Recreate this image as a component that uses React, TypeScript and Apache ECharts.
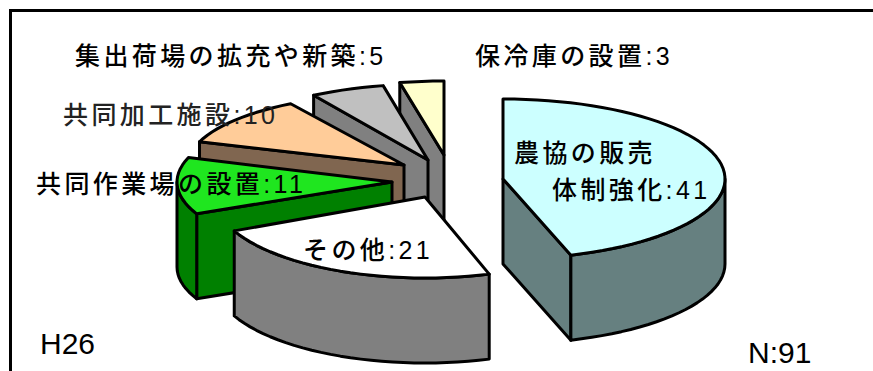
import React, { useEffect, useRef } from "react";
import * as echarts from "echarts";

const categories = ["農協の販売\n体制強化", "その他", "共同作業場の設置", "共同加工施設", "集出荷場の拡充や新築", "保冷庫の設置"];
const values = [41, 21, 11, 10, 5, 3];
const total = 91;
const topColors = ["#ccffff", "#ffffff", "#1fe61f", "#ffcc99", "#c0c0c0", "#ffffcc"];
const sideColors = ["#668080", "#808080", "#008000", "#806650", "#808080", "#808080"];
// exploded-slice placement: [apexX, apexY, radiusX, radiusY]
const placement = [
  [503, 179, 222, 80],
  [425, 197, 210, 81],
  [392, 182, 215, 76],
  [404, 165, 216, 72],
  [428, 160, 218, 76],
  [444, 155, 215, 74],
];
const depth = 85;
// label anchors, one list per text line
const labelSpots = [
  [[514, 153], [552, 190]],
  [[303, 250]],
  [[36, 184]],
  [[63, 115]],
  [[75, 56]],
  [[475, 56]],
];
const labelColors = ["#000", "#000", "#000", "#222", "#000", "#000"];

const FONT = '"Liberation Sans", "Noto Sans CJK JP", sans-serif';

function sliceAngles() {
  let cum = 0;
  return values.map((v) => {
    const start = (cum / total) * 360;
    cum += v;
    return [start, (cum / total) * 360];
  });
}
const angles = sliceAngles();

export default function App() {
  const ref = useRef<HTMLDivElement>(null);
  useEffect(() => {
    document.body.style.margin = "0";
    const chart = echarts.init(ref.current!, null, { renderer: "svg" });
    const stroke = { stroke: "#000", lineWidth: 3, lineJoin: "round" };

    const renderItem = (params: any, api: any) => {
      const i = values.length - 1 - params.dataIndex;
      const [start, end] = angles[i];
      const [cx, cy, rx, ry] = placement[i];
      const pt = (deg: number, dy = 0) => {
        const a = (deg * Math.PI) / 180;
        return [cx + rx * Math.sin(a), cy - ry * Math.cos(a) + dy];
      };
      const arc = (a: number, b: number, dy = 0) => {
        const out = [];
        const n = Math.max(2, Math.ceil(Math.abs(b - a) / 3));
        for (let k = 0; k <= n; k++) out.push(pt(a + ((b - a) * k) / n, dy));
        return out;
      };
      const side = sideColors[i];
      const children: any[] = [];
      const face = (deg: number) => {
        children.push({
          type: "polygon",
          shape: { points: [[cx, cy], pt(deg), pt(deg, depth), [cx, cy + depth]] },
          style: { fill: side, ...stroke },
        });
      };
      if (start >= 180 && start < 360) face(start);
      if (end > 0 && end <= 180) face(end);
      const r0 = Math.max(start, 90);
      const r1 = Math.min(end, 270);
      if (r1 > r0) {
        children.push({
          type: "polygon",
          shape: { points: [...arc(r0, r1), ...arc(r1, r0, depth)] },
          style: { fill: side, ...stroke },
        });
      }
      children.push({
        type: "polygon",
        shape: { points: [[cx, cy], ...arc(start, end)] },
        style: { fill: topColors[i], ...stroke },
      });
      return { type: "group", children };
    };

    const labelTexts: any[] = [];
    categories.forEach((c, i) => {
      const lines = `${c}:${values[i]}`.split("\n");
      lines.forEach((line, k) => {
        const [x, y] = labelSpots[i][k];
        labelTexts.push({
          type: "text",
          x,
          y,
          z: 20,
          style: {
            text: line,
            font: `500 25px ${FONT}`,
            fill: labelColors[i],
            textAlign: "left",
            textVerticalAlign: "middle",
          },
        });
      });
    });

    chart.setOption({
      animation: false,
      backgroundColor: "#ffffff",
      series: [
        {
          type: "custom",
          coordinateSystem: "none",
          silent: true,
          clip: false,
          renderItem,
          data: [...values].reverse().map((v) => [v]),
        },
      ],
      graphic: [
        {
          type: "polyline",
          z: 19,
          shape: { points: [[10.5, 380], [10.5, 10.5], [880, 10.5]] },
          style: { fill: "none", stroke: "#000", lineWidth: 3 },
        },
        ...labelTexts,
        {
          type: "text",
          x: 40,
          y: 343,
          z: 20,
          style: { text: "H26", font: `30px ${FONT}`, fill: "#000", textAlign: "left", textVerticalAlign: "middle" },
        },
        {
          type: "text",
          x: 748,
          y: 352,
          z: 20,
          style: { text: "N:91", font: `30px ${FONT}`, fill: "#000", textAlign: "left", textVerticalAlign: "middle" },
        },
      ],
    });
    return () => chart.dispose();
  }, []);
  return (
    <div ref={ref} style={{ width: 873, height: 371, letterSpacing: "3.4px" }}>
      <style>{`svg text[style*="30px"] { letter-spacing: 0; }`}</style>
    </div>
  );
}
